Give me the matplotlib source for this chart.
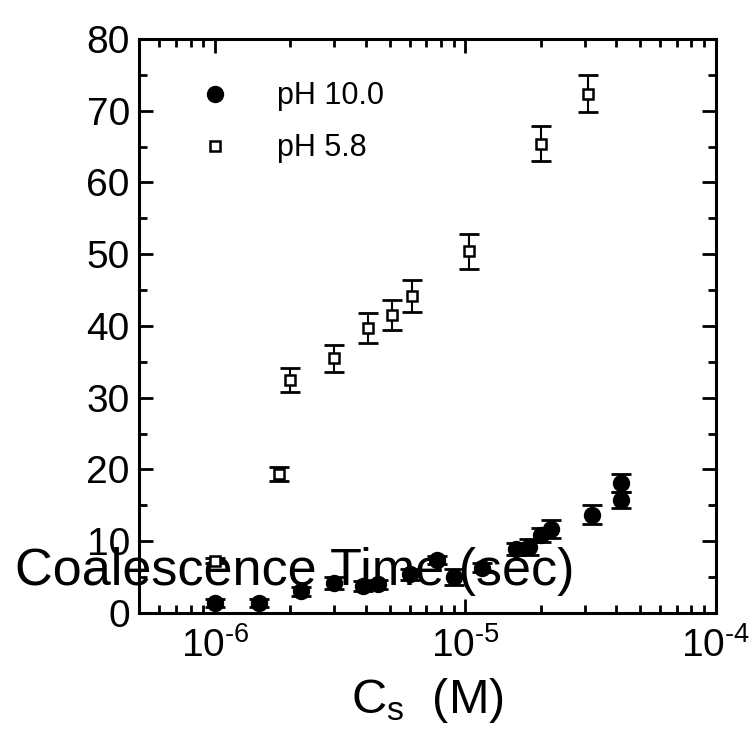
import matplotlib
matplotlib.use("Agg")
import matplotlib.pyplot as plt
from matplotlib.ticker import FixedLocator, MultipleLocator, LogLocator, NullFormatter

plt.rcParams['font.family'] = ['Liberation Sans', 'DejaVu Sans']
plt.rcParams['mathtext.fontset'] = 'custom'
plt.rcParams['mathtext.rm'] = 'Liberation Sans'
plt.rcParams['mathtext.it'] = 'Liberation Sans:italic'

# pH 10.0 (filled circles)
ph10_cs = [1.0e-6, 1.5e-6, 2.2e-6, 3.0e-6, 3.9e-6, 4.5e-6, 6.0e-6, 7.7e-6, 9.0e-6,
           1.17e-5, 1.6e-5, 1.8e-5, 2.0e-5, 2.2e-5, 3.2e-5, 4.2e-5, 4.2e-5]
ph10_t = [1.4, 1.4, 3.0, 4.2, 3.8, 4.0, 5.4, 7.4, 5.0,
          6.3, 8.9, 9.2, 10.9, 11.7, 13.7, 18.1, 15.7]
ph10_err = [0.6, 0.5, 0.6, 0.8, 0.7, 0.6, 0.75, 0.6, 1.1,
            0.6, 0.8, 1.1, 1.0, 1.3, 1.3, 1.25, 1.1]

# pH 5.8 (open squares)
ph58_cs = [1.0e-6, 1.8e-6, 2.0e-6, 3.0e-6, 4.1e-6, 5.1e-6, 6.1e-6, 1.03e-5, 2.0e-5, 3.1e-5]
ph58_t = [7.3, 19.4, 32.5, 35.5, 39.7, 41.5, 44.2, 50.4, 65.4, 72.4]
ph58_err = [0.4, 1.0, 1.7, 1.85, 2.05, 2.1, 2.2, 2.4, 2.45, 2.55]

xticks = [1e-6, 1e-5, 1e-4]
xticklabels = [r'$\mathregular{10^{\text{-}6}}$', r'$\mathregular{10^{\text{-}5}}$',
               r'$\mathregular{10^{\text{-}4}}$']
yticks = [0, 10, 20, 30, 40, 50, 60, 70, 80]

fig = plt.figure(figsize=(7.56, 7.34), dpi=100)
ax = fig.add_axes([0.1845, 0.1649, 0.7622, 0.7820])

# error bars first, markers on top
ax.errorbar(ph10_cs, ph10_t, yerr=ph10_err, fmt='none', ecolor='black',
            elinewidth=1.5, capsize=7.5, capthick=2, zorder=2)
ax.errorbar(ph58_cs, ph58_t, yerr=ph58_err, fmt='none', ecolor='black',
            elinewidth=1.5, capsize=7.5, capthick=2, zorder=2)
ax.plot(ph10_cs, ph10_t, 'o', color='black', ms=11.5, label='pH 10.0', zorder=3)
ax.plot(ph58_cs, ph58_t, 's', mfc='white', mec='black', mew=1.8, ms=7.5,
        label='pH 5.8', zorder=3)

ax.set_xscale('log')
ax.set_xlim(5e-7, 1e-4)
ax.set_ylim(0, 80)

ax.xaxis.set_major_locator(FixedLocator(xticks))
ax.set_xticks(xticks, xticklabels)
ax.xaxis.set_minor_locator(LogLocator(base=10, subs=range(2, 10)))
ax.xaxis.set_minor_formatter(NullFormatter())
ax.set_yticks(yticks)
ax.yaxis.set_minor_locator(MultipleLocator(5))

for s in ax.spines.values():
    s.set_linewidth(2.2)
ax.tick_params(which='both', direction='in', top=True, right=True, width=2,
               labelsize=28, pad=7)
ax.tick_params(axis='x', which='major', pad=10)
ax.tick_params(which='major', length=10)
ax.tick_params(which='minor', length=6)

ax.set_xlabel(r'C$_\mathregular{s}$  (M)', fontsize=35, va='baseline')
ax.xaxis.set_label_coords(0.5, -0.174)

# the y label sits flat across the bottom of the plot, as in the source figure
ax.set_ylabel('Coalescence Time (sec)', fontsize=37.5, rotation=0,
              ha='left', va='baseline')
ax.yaxis.set_label_coords(-0.216, 0.0488)

ax.legend(loc='upper left', bbox_to_anchor=(0.1045, 0.926), frameon=False,
          fontsize=22, handlelength=1.0, handletextpad=1.53, labelspacing=0.72,
          borderpad=0, borderaxespad=0, numpoints=1)

fig.savefig('out.png', dpi=100)
